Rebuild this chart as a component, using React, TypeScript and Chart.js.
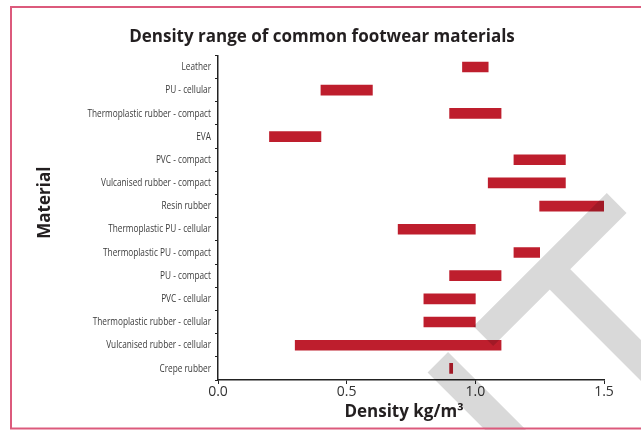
import React, { useEffect, useRef } from 'react';
import { Chart, registerables } from 'chart.js';

Chart.register(...registerables);

const chartTitle = 'Density range of common footwear materials';
const xAxisTitle = 'Density kg/m³';
const yAxisTitle = 'Material';

const materials = [
  'Leather',
  'PU - cellular',
  'Thermoplastic rubber - compact',
  'EVA',
  'PVC - compact',
  'Vulcanised rubber - compact',
  'Resin rubber',
  'Thermoplastic PU - cellular',
  'Thermoplastic PU - compact',
  'PU - compact',
  'PVC - cellular',
  'Thermoplastic rubber - cellular',
  'Vulcanised rubber - cellular',
  'Crepe rubber',
];

const minDensity = [0.95, 0.4, 0.9, 0.2, 1.15, 1.05, 1.25, 0.7, 1.15, 0.9, 0.8, 0.8, 0.3, 0.9];
const maxDensity = [1.05, 0.6, 1.1, 0.4, 1.35, 1.35, 1.5, 1.0, 1.25, 1.1, 1.0, 1.0, 1.1, 0.912];

const xTicks = [0, 0.5, 1.0, 1.5];

const WIDTH = 641;
const HEIGHT = 430;

function bandPath(ctx: CanvasRenderingContext2D, x1: number, y1: number, x2: number, y2: number, w: number) {
  const dx = x2 - x1;
  const dy = y2 - y1;
  const len = Math.hypot(dx, dy);
  const nx = (-dy / len) * (w / 2);
  const ny = (dx / len) * (w / 2);
  ctx.moveTo(x1 + nx, y1 + ny);
  ctx.lineTo(x2 + nx, y2 + ny);
  ctx.lineTo(x2 - nx, y2 - ny);
  ctx.lineTo(x1 - nx, y1 - ny);
  ctx.closePath();
}

const decorPlugin = {
  id: 'decor',
  beforeDraw(chart: any) {
    const ctx = chart.ctx as CanvasRenderingContext2D;
    ctx.save();
    ctx.fillStyle = '#ffffff';
    ctx.fillRect(0, 0, chart.width, chart.height);
    ctx.restore();
  },
  afterDraw(chart: any) {
    const ctx = chart.ctx as CanvasRenderingContext2D;
    const area = chart.chartArea;
    const yScale = chart.scales.y;
    ctx.save();

    // category labels (condensed humanist face, like the original)
    ctx.fillStyle = '#3a3a3a';
    ctx.font = "11px 'Open Sans', sans-serif";
    ctx.textAlign = 'right';
    ctx.textBaseline = 'middle';
    const xRight = area.left - 7;
    materials.forEach((label, i) => {
      const y = yScale.getPixelForValue(i);
      ctx.save();
      ctx.translate(xRight, y);
      ctx.scale(0.75, 1);
      ctx.fillText(label, 0, 0);
      ctx.restore();
    });

    // axis titles
    ctx.fillStyle = '#231f20';
    ctx.font = "bold 17px 'Open Sans', sans-serif";
    ctx.textAlign = 'center';
    ctx.textBaseline = 'middle';
    ctx.fillText(xAxisTitle, (area.left + area.right) / 2 - 7, 412);
    ctx.save();
    ctx.translate(45, (area.top + area.bottom) / 2 - 15);
    ctx.rotate(-Math.PI / 2);
    ctx.fillText(yAxisTitle, 0, 0);
    ctx.restore();

    // watermark
    ctx.fillStyle = 'rgba(0,0,0,0.15)';
    ctx.beginPath();
    bandPath(ctx, 616.7, 203, 483.3, 336.2, 28);
    bandPath(ctx, 550.1, 269.6, 720, 439.5, 29);
    bandPath(ctx, 437.8, 362.2, 520, 444.4, 29);
    ctx.fill('nonzero');

    // frame
    ctx.strokeStyle = '#dc5a7c';
    ctx.lineWidth = 2;
    ctx.strokeRect(11, 7, 700, 421.5);
    ctx.restore();
  },
};

export default function App() {
  const canvasRef = useRef<HTMLCanvasElement | null>(null);

  useEffect(() => {
    if (!canvasRef.current) return;
    const chart = new Chart(canvasRef.current, {
      type: 'bar',
      data: {
        labels: materials,
        datasets: [
          {
            label: 'Density range',
            data: materials.map((_, i) => [minDensity[i], maxDensity[i]]) as any,
            backgroundColor: '#be1e2d',
            borderWidth: 0,
            barThickness: 10,
            borderSkipped: false,
          },
        ],
      },
      options: {
        indexAxis: 'y',
        responsive: false,
        animation: false,
        layout: { padding: { left: 40, right: 37, top: 0, bottom: 0 } },
        plugins: {
          legend: { display: false },
          tooltip: { enabled: false },
          title: {
            display: true,
            text: chartTitle,
            color: '#231f20',
            font: { family: "'Open Sans', sans-serif", size: 17, weight: 'bold', lineHeight: 1.2 },
            padding: { top: 27, bottom: 8 },
          },
        },
        scales: {
          x: {
            type: 'linear',
            min: 0,
            max: 1.5,
            afterBuildTicks: (scale: any) => {
              scale.ticks = xTicks.map((v) => ({ value: v }));
            },
            afterFit: (scale: any) => {
              scale.height = 50;
            },
            ticks: {
              color: '#333333',
              font: { family: "'Open Sans', sans-serif", size: 14, lineHeight: 1 },
              padding: 1,
              maxRotation: 0,
              callback: (v: any) => Number(v).toFixed(1),
            },
            grid: { drawOnChartArea: false, drawTicks: true, tickLength: 4, color: '#222222', lineWidth: 1 },
            border: { display: true, color: '#222222', width: 1.5 },
          },
          y: {
            type: 'category',
            afterFit: (scale: any) => {
              scale.width = 178;
            },
            ticks: { display: false },
            grid: { drawOnChartArea: false, drawTicks: true, tickLength: 3, offset: true, color: '#222222', lineWidth: 1 },
            border: { display: true, color: '#222222', width: 1.5 },
          },
        },
      },
      plugins: [decorPlugin],
    });
    return () => chart.destroy();
  }, []);

  return (
    <div style={{ position: 'absolute', left: 0, top: 0, width: WIDTH, height: HEIGHT }}>
      <canvas ref={canvasRef} width={WIDTH} height={HEIGHT} style={{ display: 'block' }} />
    </div>
  );
}
